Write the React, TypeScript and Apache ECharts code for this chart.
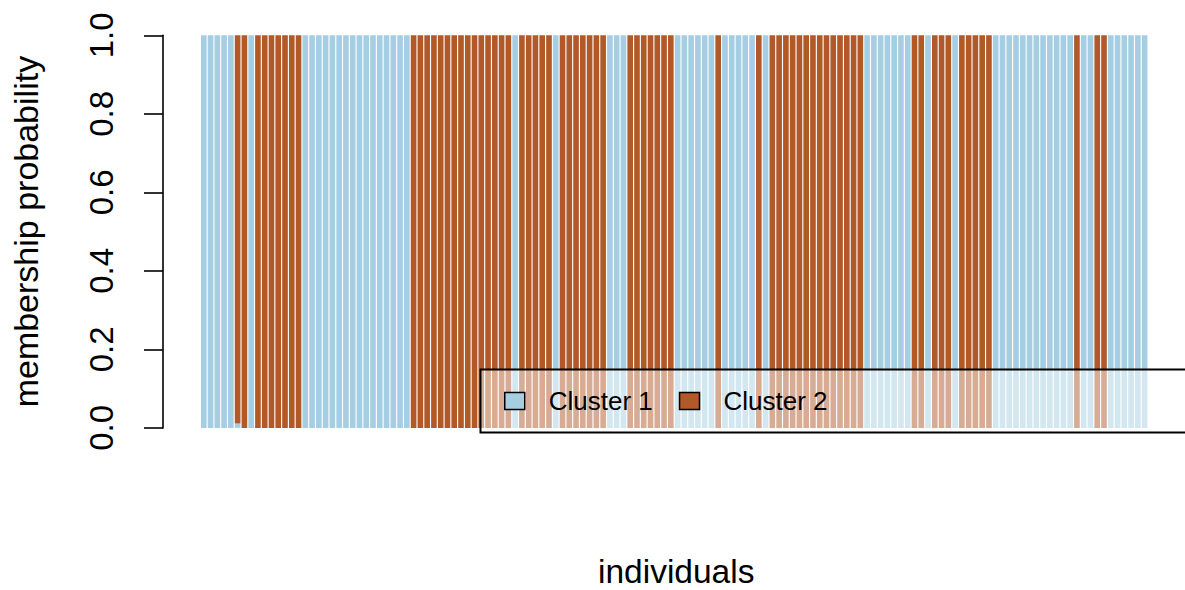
import React, { useEffect, useRef } from "react";
import * as echarts from "echarts";

const individuals: string[] = Array.from({ length: 140 }, (_, i) => String(i + 1));

const cluster1: number[] = [
  1, 1, 1, 1, 1, 0.011, 0, 1, 0, 0,
  0, 0, 0, 0, 0, 1, 1, 1, 1, 1,
  1, 1, 1, 1, 1, 1, 1, 1, 1, 1,
  1, 0, 0, 0, 0, 0, 0, 0, 0, 0,
  0, 0, 0, 0, 0, 0, 1, 0, 0, 0,
  0, 0, 1, 0, 0, 0, 0, 0, 0, 0,
  1, 1, 1, 0, 0, 0, 0, 0, 0, 0,
  1, 1, 1, 1, 1, 1, 0, 1, 1, 1,
  1, 1, 0, 1, 0, 0, 0, 0, 0, 0,
  0, 0, 0, 0, 0, 0, 0, 0, 1, 1,
  1, 1, 1, 1, 1, 0, 0, 1, 0, 0,
  0, 1, 0, 0, 0, 0, 0, 1, 1, 1,
  1, 1, 1, 1, 1, 1, 1, 1, 1, 0,
  1, 1, 0, 0, 1, 1, 1, 1, 1, 1,
];

const cluster2: number[] = [
  0, 0, 0, 0, 0, 0.989, 1, 0, 1, 1,
  1, 1, 1, 1, 1, 0, 0, 0, 0, 0,
  0, 0, 0, 0, 0, 0, 0, 0, 0, 0,
  0, 1, 1, 1, 1, 1, 1, 1, 1, 1,
  1, 1, 1, 1, 1, 1, 0, 1, 1, 1,
  1, 1, 0, 1, 1, 1, 1, 1, 1, 1,
  0, 0, 0, 1, 1, 1, 1, 1, 1, 1,
  0, 0, 0, 0, 0, 0, 1, 0, 0, 0,
  0, 0, 1, 0, 1, 1, 1, 1, 1, 1,
  1, 1, 1, 1, 1, 1, 1, 1, 0, 0,
  0, 0, 0, 0, 0, 1, 1, 0, 1, 1,
  1, 0, 1, 1, 1, 1, 1, 0, 0, 0,
  0, 0, 0, 0, 0, 0, 0, 0, 0, 1,
  0, 0, 1, 1, 0, 0, 0, 0, 0, 0,
];

const seriesNames: string[] = ["Cluster 1", "Cluster 2"];
const seriesColors: string[] = ["#A6CEE3", "#B15928"];
const yTicks: number[] = [0, 0.2, 0.4, 0.6, 0.8, 1.0];

const FONT = "'Liberation Sans', Arial, Helvetica, sans-serif";

export default function App() {
  const ref = useRef<HTMLDivElement>(null);

  useEffect(() => {
    if (!ref.current) return;
    const chart = echarts.init(ref.current, undefined, { renderer: "svg" });
    const option: any = {
      animation: false,
      backgroundColor: "#ffffff",
      textStyle: { fontFamily: FONT },
      grid: {
        left: 200.4,
        top: 35.3,
        width: 947.6,
        height: 392.6,
        containLabel: false,
        outerBoundsMode: "none",
      },
      xAxis: {
        type: "category",
        data: individuals,
        axisLine: { show: false },
        axisTick: { show: false },
        axisLabel: { show: false },
        splitLine: { show: false },
        name: "individuals",
        nameLocation: "middle",
        nameGap: 127,
        nameTextStyle: { fontSize: 33.5, color: "#000", fontFamily: FONT, padding: [0, 0, 0, 4] },
      },
      yAxis: {
        type: "value",
        min: yTicks[0],
        max: yTicks[yTicks.length - 1],
        interval: 0.2,
        offset: 37.4,
        axisLine: { show: true, lineStyle: { color: "#000", width: 1.6 } },
        axisTick: { show: true, length: 19, lineStyle: { color: "#000", width: 1.6 } },
        axisLabel: {
          rotate: 90,
          margin: 45,
          fontSize: 33,
          color: "#000",
          fontFamily: FONT,
          formatter: (v: number) => v.toFixed(1),
        },
        splitLine: { show: false },
        name: "membership probability",
        nameLocation: "middle",
        nameRotate: 90,
        nameGap: 120,
        nameTextStyle: { fontSize: 34, color: "#000", fontFamily: FONT },
      },
      legend: {
        data: seriesNames,
        left: 504,
        top: 388,
        padding: 0,
        icon: "rect",
        itemWidth: 20,
        itemHeight: 17,
        itemGap: 26,
        itemStyle: { borderColor: "#000", borderWidth: 1.5 },
        textStyle: { fontSize: 26, color: "#000", fontFamily: FONT, padding: [0, 0, 0, 19] },
        selectedMode: false,
      },
      graphic: [
        {
          type: "rect",
          z: 3,
          shape: { x: 480.5, y: 369.5, width: 900, height: 63 },
          style: { fill: "rgba(255,255,255,0.5)", stroke: "#000", lineWidth: 2 },
        },
      ],
      series: [
        {
          name: seriesNames[0],
          type: "bar",
          stack: "membership",
          data: cluster1,
          barCategoryGap: "16.67%",
          itemStyle: { color: seriesColors[0] },
        },
        {
          name: seriesNames[1],
          type: "bar",
          stack: "membership",
          data: cluster2,
          barCategoryGap: "16.67%",
          itemStyle: { color: seriesColors[1] },
        },
      ],
    };
    chart.setOption(option);
    return () => chart.dispose();
  }, []);

  return (
    <div
      ref={ref}
      style={{ position: "fixed", left: 0, top: 0, width: 1185, height: 590, background: "#fff" }}
    />
  );
}
